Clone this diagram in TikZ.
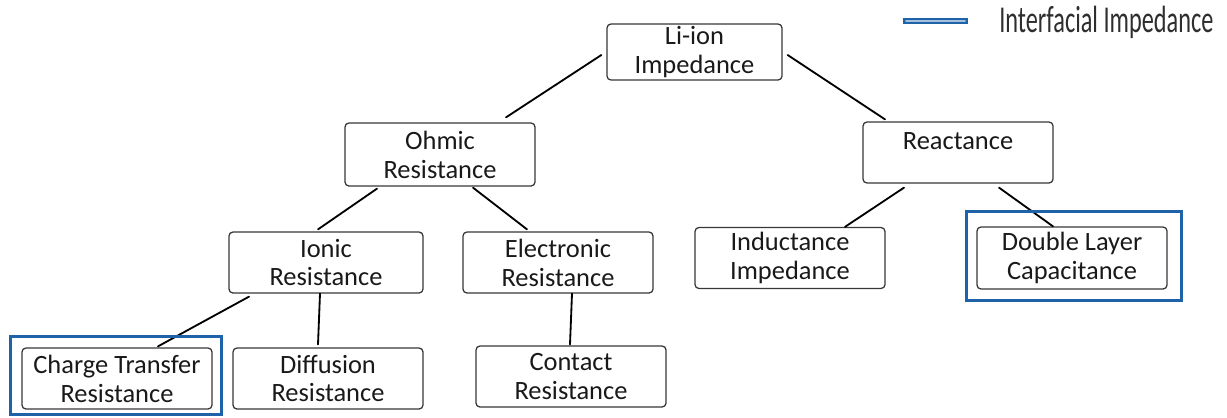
\documentclass[tikz,border=0pt]{standalone}
\usepackage{fontspec}
\setmainfont{Carlito}
\newfontfamily\legendfont[FakeStretch=0.64]{Carlito}
\usetikzlibrary{calc}
\definecolor{frameblue}{RGB}{30,98,168}
\definecolor{boxgray}{RGB}{55,55,55}
\begin{document}
\begin{tikzpicture}[x=0.025cm, y=-0.025cm, line join=round, line cap=round,
	font=\fontsize{18.8pt}{20.5pt}\selectfont,
	box/.style={draw=boxgray, line width=0.9pt, rounded corners=0.1cm, align=center,
		inner sep=0pt, minimum width=4.75cm, minimum height=1.525cm, text=black!90},
	link/.style={line width=1.3pt},
	frame/.style={draw=frameblue, line width=2pt, line cap=butt, line join=miter}]
	\useasboundingbox (0,0) rectangle (1227,417);
	% tree nodes
	\node[box, minimum width=4.375cm, minimum height=1.4cm] (lion) at (694.5,52) {Li-ion\\Impedance};
	\node[box, minimum height=1.575cm] (ohmic) at (440,154.5) {Ohmic\\Resistance};
	\node[box, text height=13pt, text depth=16.6pt] (react) at (958,152.5) {Reactance};
	\node[box, minimum width=4.85cm] (ionic) at (326,262.5) {Ionic\\Resistance};
	\node[box] (elec) at (558,262.5) {Electronic\\Resistance};
	\node[box] (induct) at (790,258) {Inductance\\Impedance};
	\node[box, minimum height=1.55cm] (dlc) at (1072,258) {Double Layer\\Capacitance};
	\node[box] (charge) at (117,378.5) {Charge Transfer\\Resistance};
	\node[box] (diff) at (328,378.5) {Diffusion\\Resistance};
	\node[box] (contact) at (571,376.5) {Contact\\Resistance};
	% connectors
	\draw[link] ($(lion.west)+(-5,3)$) -- ($(ohmic.north)+(66,-5)$);
	\draw[link] ($(lion.east)+(5,3)$) -- ($(react.north)+(-73,-2)$);
	\draw[link] ($(ohmic.south)+(-63,2)$) -- ($(ionic.north)+(-8,-2)$);
	\draw[link] ($(ohmic.south)+(33,1)$) -- ($(elec.north)+(-31,-2)$);
	\draw[link] ($(react.south)+(-54,4)$) -- ($(induct.north)+(55,0)$);
	\draw[link] ($(react.south)+(41,4)$) -- ($(dlc.north)+(-19,0)$);
	\draw[link] ($(ionic.south)+(-77,3)$) -- ($(charge.north)+(41,-1)$);
	\draw[link] ($(ionic.south)+(-6,0)$) -- ($(diff.north)+(-10,-3)$);
	\draw[link] ($(elec.south)+(14,0)$) -- ($(contact.north)+(-1,-1)$);
	% interfacial frames
	\draw[frame] ($(charge.south west)+(-11,5)$) rectangle ($(charge.north east)+(9,-11)$);
	\draw[frame] ($(dlc.south west)+(-10,11)$) rectangle ($(dlc.north east)+(14,-15)$);
	% legend
	\coordinate (keyA) at (903,21);
	\coordinate (keyB) at (968,21);
	\draw[frameblue, line width=3.6pt, line cap=butt] (keyA) -- (keyB);
	\draw[frameblue!40, line width=0.8pt] ([xshift=2pt]keyA) -- ([xshift=-2pt]keyB);
	\node[anchor=west, inner sep=0pt, text=black!82,
		font=\legendfont\fontsize{27pt}{30pt}\selectfont] (key) at (999,22) {Interfacial Impedance};
\end{tikzpicture}
\end{document}
